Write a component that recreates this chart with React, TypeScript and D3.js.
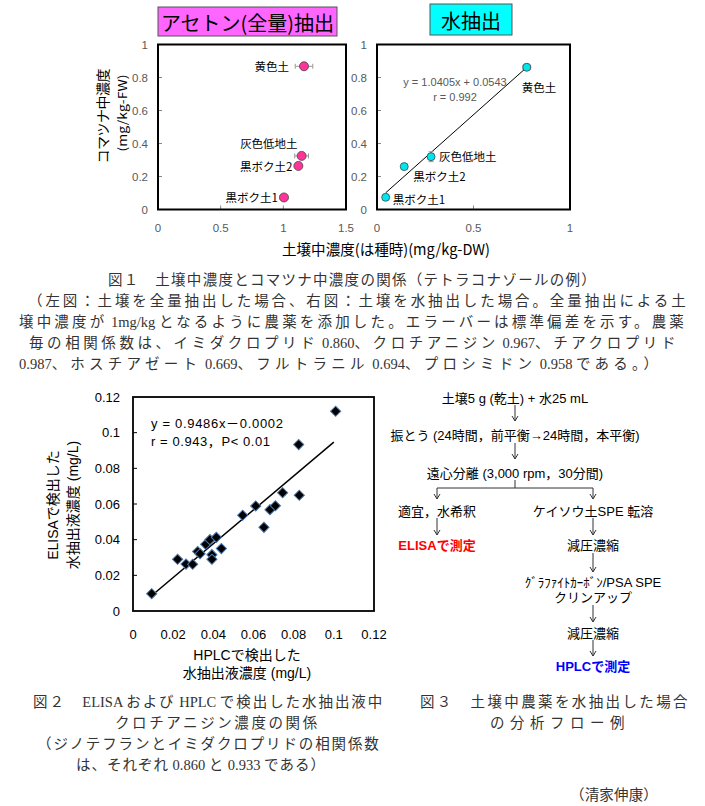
import React from 'react';
import * as d3 from 'd3';

// ---------- Data ----------
const soilLabels = ['黄色土', '灰色低地土', '黒ボク土2', '黒ボク土1'];
// Fig.1 left: acetone (total) extraction
const acetoneSoil = [1.165, 1.146, 1.12, 1.005];
const acetonePlant = [0.868, 0.325, 0.264, 0.073];
const acetoneSoilSD = [0.07, 0.055, 0.02, 0.03];
const acetonePlantSD = [0.01, 0.02, 0.01, 0.005];
// Fig.1 right: water extraction
const waterSoil = [0.776, 0.28, 0.141, 0.045];
const waterPlant = [0.862, 0.32, 0.26, 0.074];
const waterSoilSD = [0.02, 0.01, 0.005, 0.005];
const waterPlantSD = [0.02, 0.03, 0.01, 0.01];
const waterSlope = 1.0405;
const waterIntercept = 0.0543;
const waterFitRange = [0.045, 0.78];
const waterEq = ['y = 1.0405x + 0.0543', 'r = 0.992'];

const f1LeftXTicks = [0, 0.5, 1, 1.5];
const f1RightXTicks = [0, 0.5, 1];
const f1YTicks = [0, 0.2, 0.4, 0.6, 0.8, 1];

// Fig.2: ELISA vs HPLC
const hplc = [0.0093, 0.0222, 0.0264, 0.0297, 0.0322, 0.0334, 0.0362, 0.0383, 0.0393, 0.0393, 0.0415, 0.044,
  0.0546, 0.0611, 0.0652, 0.0682, 0.0709, 0.0745, 0.0828, 0.0825, 0.1009];
const elisa = [0.0097, 0.029, 0.0263, 0.0262, 0.0333, 0.0321, 0.0374, 0.040, 0.0316, 0.029, 0.0413, 0.035,
  0.0537, 0.0589, 0.0469, 0.0568, 0.059, 0.0663, 0.0649, 0.0933, 0.112];
const elisaSlope = 0.9486;
const elisaIntercept = -0.0002;
const elisaFitRange = [0.0101, 0.1];
const f2Ticks = [0, 0.02, 0.04, 0.06, 0.08, 0.1, 0.12];
const f2Eq = ['y = 0.9486x－0.0002', 'r = 0.943，P< 0.01'];

// Captions
const cap1 = [
  '図１　土壌中濃度とコマツナ中濃度の関係（テトラコナゾールの例）',
  '（左図：土壌を全量抽出した場合、右図：土壌を水抽出した場合。全量抽出による土',
  '壌中濃度が 1mg/kg となるように農薬を添加した。エラーバーは標準偏差を示す。農薬',
  '毎の相関係数は、イミダクロプリド 0.860、クロチアニジン 0.967、チアクロプリド',
  '0.987、ホスチアゼート 0.669、フルトラニル 0.694、プロシミドン 0.958 である。）',
];
const cap2 = [
  '図２　ELISA および HPLC で検出した水抽出液中',
  'クロチアニジン濃度の関係',
  '（ジノテフランとイミダクロプリドの相関係数',
  'は、それぞれ 0.860 と 0.933 である）',
];
const cap3 = ['図３　土壌中農薬を水抽出した場合', 'の分析フロー例'];
const author = '（清家伸康）';

const SANS = "'Liberation Sans', 'Noto Sans CJK JP', sans-serif";
const JSANS = "'Noto Sans CJK JP', 'Liberation Sans', sans-serif";
const SERIF = "'Liberation Serif', 'Noto Sans CJK JP', serif";

// ---------- Helpers ----------
const fmt = (v: number) => String(+v.toFixed(2));

let measureCtx: CanvasRenderingContext2D | null = null;
function measure(text: string, font: string): number {
  if (!measureCtx) measureCtx = document.createElement('canvas').getContext('2d');
  if (!measureCtx) return text.length * 7;
  measureCtx.font = font;
  return measureCtx.measureText(text).width;
}

function CaptionLine({ x, y, width, text, fs = 14.5 }: { x: number; y: number; width: number; text: string; fs?: number }) {
  const runs = text.match(/[\x20-\x7e]+|[^\x20-\x7e]+/g) || [];
  let asciiW = 0;
  let cjkN = 0;
  runs.forEach((r) => {
    if (/^[\x20-\x7e]/.test(r)) asciiW += measure(r, `${fs}px 'Liberation Serif'`);
    else cjkN += Array.from(r).length;
  });
  const ls = cjkN > 0 ? Math.max(-1.5, (width - asciiW - cjkN * fs) / cjkN) : 0;
  return (
    <text x={x} y={y} dominantBaseline="central" fontSize={fs} fill="#333" fontFamily={SERIF}>
      {runs.map((r, i) => (
        <tspan key={i} style={{ letterSpacing: /^[\x20-\x7e]/.test(r) ? '0px' : `${ls}px` }}>{r}</tspan>
      ))}
    </text>
  );
}

function Arrow({ x, y1, y2 }: { x: number; y1: number; y2: number }) {
  return (
    <g stroke="#333" strokeWidth={1} fill="none">
      <line x1={x} y1={y1} x2={x} y2={y2} />
      <polyline points={`${x - 3},${y2 - 5} ${x},${y2} ${x + 3},${y2 - 5}`} />
    </g>
  );
}

function Fig1Panel(props: {
  x0: number; x1: number; y0: number; y1: number; xMax: number; xTicks: number[];
  xs: number[]; ys: number[]; sx: number[]; sy: number[]; color: string; r: number;
  labelAnchor: 'start' | 'end'; labelOffsets: [number, number][];
}) {
  const { x0, x1, y0, y1, xMax, xTicks, xs, ys, sx, sy, color, r, labelAnchor, labelOffsets } = props;
  const x = d3.scaleLinear().domain([0, xMax]).range([x0, x1]);
  const y = d3.scaleLinear().domain([0, 1]).range([y1, y0]);
  return (
    <g>
      {f1YTicks.map((t) => (
        <text key={'yt' + t} x={x0 - 10} y={y(t)} textAnchor="end" dominantBaseline="central"
          fontSize={11.5} fill="#595959" fontFamily={SANS}>{fmt(t)}</text>
      ))}
      {f1YTicks.filter((t) => t > 0 && t < 1).map((t) => (
        <line key={'ytm' + t} x1={x0} x2={x0 + 4} y1={y(t)} y2={y(t)} stroke="#888" strokeWidth={1} />
      ))}
      {xTicks.map((t) => (
        <text key={'xt' + t} x={x(t)} y={y1 + 18} textAnchor="middle" dominantBaseline="central"
          fontSize={11.5} fill="#595959" fontFamily={SANS}>{fmt(t)}</text>
      ))}
      {xTicks.filter((t) => t > 0 && t < xMax).map((t) => (
        <line key={'xtm' + t} x1={x(t)} x2={x(t)} y1={y1} y2={y1 - 4} stroke="#888" strokeWidth={1} />
      ))}
      <rect x={x0} y={y0} width={x1 - x0} height={y1 - y0} fill="none" stroke="#000" strokeWidth={2} />
      {xs.map((v, i) => (
        <g key={'eb' + i} stroke="#999" strokeWidth={1}>
          <line x1={x(v - sx[i])} x2={x(v + sx[i])} y1={y(ys[i])} y2={y(ys[i])} />
          <line x1={x(v - sx[i])} x2={x(v - sx[i])} y1={y(ys[i]) - 2.5} y2={y(ys[i]) + 2.5} />
          <line x1={x(v + sx[i])} x2={x(v + sx[i])} y1={y(ys[i]) - 2.5} y2={y(ys[i]) + 2.5} />
          <line x1={x(v)} x2={x(v)} y1={y(ys[i] - sy[i])} y2={y(ys[i] + sy[i])} />
          <line x1={x(v) - 2.5} x2={x(v) + 2.5} y1={y(ys[i] - sy[i])} y2={y(ys[i] - sy[i])} />
          <line x1={x(v) - 2.5} x2={x(v) + 2.5} y1={y(ys[i] + sy[i])} y2={y(ys[i] + sy[i])} />
        </g>
      ))}
      {xs.map((v, i) => (
        <circle key={'pt' + i} cx={x(v)} cy={y(ys[i])} r={r} fill={color} stroke="#444" strokeWidth={0.8} />
      ))}
      {soilLabels.map((s, i) => (
        <text key={'lb' + i} x={x(xs[i]) + labelOffsets[i][0]} y={y(ys[i]) + labelOffsets[i][1]}
          textAnchor={labelAnchor} dominantBaseline="central" fontSize={11.5} fill="#000" fontFamily={JSANS}>{s}</text>
      ))}
    </g>
  );
}

export default function App() {
  const fTop = 44.5, fBot = 209.5;
  const xW = d3.scaleLinear().domain([0, 1]).range([377, 570]);
  const yW = d3.scaleLinear().domain([0, 1]).range([fBot, fTop]);

  const x2 = d3.scaleLinear().domain([0, 0.12]).range([133, 374]);
  const y2 = d3.scaleLinear().domain([0, 0.12]).range([611, 397]);
  const diamond = d3.symbol().type(d3.symbolSquare).size(52)() as string;

  const cx = 515, lx = 437, rx = 593;

  return (
    <svg width={705} height={806} style={{ position: 'absolute', left: 0, top: 0, background: '#fff' }}>
      <rect x={0} y={0} width={705} height={806} fill="#fff" />

      {/* ===== Figure 1 ===== */}
      <rect x={158} y={7} width={179} height={29} fill="#ff66ff" stroke="#555" strokeWidth={1} />
      <text x={247.5} y={22} textAnchor="middle" dominantBaseline="central" fontSize={20} fontFamily={JSANS}>アセトン(全量)抽出</text>
      <rect x={430} y={4} width={82} height={31} fill="#00ffff" stroke="#555" strokeWidth={1} />
      <text x={471} y={20} textAnchor="middle" dominantBaseline="central" fontSize={20} fontFamily={JSANS}>水抽出</text>

      <Fig1Panel x0={158} x1={346} y0={fTop} y1={fBot} xMax={1.5} xTicks={f1LeftXTicks}
        xs={acetoneSoil} ys={acetonePlant} sx={acetoneSoilSD} sy={acetonePlantSD}
        color="#ff3399" r={4.5} labelAnchor="end" labelOffsets={[[-15, 0], [-4, -13], [-6, 0], [-6, 0]]} />

      <line x1={xW(waterFitRange[0])} y1={yW(waterSlope * waterFitRange[0] + waterIntercept)}
        x2={xW(waterFitRange[1])} y2={yW(waterSlope * waterFitRange[1] + waterIntercept)} stroke="#000" strokeWidth={1} />
      <Fig1Panel x0={377} x1={570} y0={fTop} y1={fBot} xMax={1} xTicks={f1RightXTicks}
        xs={waterSoil} ys={waterPlant} sx={waterSoilSD} sy={waterPlantSD}
        color="#00e5ee" r={4} labelAnchor="start" labelOffsets={[[-5, 20], [8, -1], [9, 9], [7, 2]]} />
      <text x={455} y={82} textAnchor="middle" dominantBaseline="central" fontSize={11} fill="#595959" fontFamily={SANS}>{waterEq[0]}</text>
      <text x={455} y={97} textAnchor="middle" dominantBaseline="central" fontSize={11} fill="#595959" fontFamily={SANS}>{waterEq[1]}</text>

      <g transform="translate(102,116) rotate(-90)">
        <text textAnchor="middle" dominantBaseline="central" fontSize={14} fontFamily={JSANS}
          textLength={95} lengthAdjust="spacing">コマツナ中濃度</text>
      </g>
      <g transform="translate(121,113) rotate(-90)">
        <text textAnchor="middle" dominantBaseline="central" fontSize={12} fontFamily={JSANS}
          textLength={77} lengthAdjust="spacingAndGlyphs">(mg/kg-FW)</text>
      </g>
      <text x={386} y={248} textAnchor="middle" dominantBaseline="central" fontSize={15} fontFamily={JSANS}
        textLength={208} lengthAdjust="spacingAndGlyphs">土壌中濃度(は種時)(mg/kg-DW)</text>

      {/* Caption 1 */}
      {[[108, 489], [28, 661], [19, 670], [29, 651], [19, 651]].map(([x, w], i) => (
        <CaptionLine key={'c1' + i} x={x} y={280 + i * 21} width={w} text={cap1[i]} />
      ))}

      {/* ===== Figure 2 ===== */}
      {f2Ticks.map((t) => (
        <text key={'y2' + t} x={120} y={y2(t)} textAnchor="end" dominantBaseline="central" fontSize={13}
          fill="#000" fontFamily={SANS}>{fmt(t)}</text>
      ))}
      {f2Ticks.filter((t) => t > 0 && t < 0.12).map((t) => (
        <line key={'y2m' + t} x1={133} x2={137} y1={y2(t)} y2={y2(t)} stroke="#000" strokeWidth={1} />
      ))}
      {f2Ticks.map((t) => (
        <text key={'x2' + t} x={x2(t)} y={634} textAnchor="middle" dominantBaseline="central" fontSize={13}
          fill="#000" fontFamily={SANS}>{fmt(t)}</text>
      ))}
      <rect x={133} y={397} width={241} height={214} fill="none" stroke="#000" strokeWidth={1.8} />
      <line x1={x2(elisaFitRange[0])} y1={y2(elisaSlope * elisaFitRange[0] + elisaIntercept)}
        x2={x2(elisaFitRange[1])} y2={y2(elisaSlope * elisaFitRange[1] + elisaIntercept)} stroke="#000" strokeWidth={1.5} />
      {hplc.map((v, i) => (
        <path key={'d' + i} d={diamond} transform={`translate(${x2(v)},${y2(elisa[i])}) rotate(45)`}
          fill="#000" stroke="#4a78b0" strokeWidth={1} />
      ))}
      <text x={151} y={423} dominantBaseline="central" fontSize={13} fontFamily={SANS}
        textLength={132} lengthAdjust="spacing">{f2Eq[0]}</text>
      <text x={151} y={441} dominantBaseline="central" fontSize={13} fontFamily={SANS}
        textLength={119} lengthAdjust="spacing">{f2Eq[1]}</text>
      <g transform="translate(53,505) rotate(-90)">
        <text textAnchor="middle" dominantBaseline="central" fontSize={14} fontFamily={SANS}>ELISAで検出した</text>
      </g>
      <g transform="translate(73,505) rotate(-90)">
        <text textAnchor="middle" dominantBaseline="central" fontSize={14} fontFamily={SANS}>水抽出液濃度 (mg/L)</text>
      </g>
      <text x={247} y={655} textAnchor="middle" dominantBaseline="central" fontSize={14} fontFamily={SANS}>HPLCで検出した</text>
      <text x={247} y={673} textAnchor="middle" dominantBaseline="central" fontSize={14} fontFamily={SANS}>水抽出液濃度 (mg/L)</text>

      {/* ===== Figure 3 flow ===== */}
      <g fontFamily={SANS} fontSize={13} fill="#000" textAnchor="middle">
        <text x={cx} y={398} dominantBaseline="central">土壌5 g (乾土) + 水25 mL</text>
        <Arrow x={cx} y1={405} y2={421} />
        <text x={cx} y={435} dominantBaseline="central">振とう (24時間，前平衡→24時間，本平衡)</text>
        <Arrow x={cx} y1={443} y2={459} />
        <text x={cx} y={473} dominantBaseline="central">遠心分離 (3,000 rpm，30分間)</text>
        <g stroke="#333" strokeWidth={1} fill="none">
          <line x1={cx} y1={480} x2={cx} y2={488} />
          <line x1={lx} y1={488} x2={rx} y2={488} />
        </g>
        <Arrow x={lx} y1={488} y2={499} />
        <Arrow x={rx} y1={488} y2={499} />
        <text x={lx} y={511} dominantBaseline="central">適宜，水希釈</text>
        <text x={rx} y={511} dominantBaseline="central">ケイソウ土SPE 転溶</text>
        <Arrow x={lx} y1={518} y2={535} />
        <Arrow x={rx} y1={518} y2={535} />
        <text x={lx} y={545} dominantBaseline="central" fill="#ff0000" fontWeight="bold">ELISAで測定</text>
        <text x={rx} y={545} dominantBaseline="central">減圧濃縮</text>
        <Arrow x={rx} y1={553} y2={572} />
        <text x={rx} y={582} dominantBaseline="central">ｸﾞﾗﾌｧｲﾄｶｰﾎﾞﾝ/PSA SPE</text>
        <text x={rx} y={597} dominantBaseline="central">クリンアップ</text>
        <Arrow x={rx} y1={605} y2={622} />
        <text x={rx} y={633} dominantBaseline="central">減圧濃縮</text>
        <Arrow x={rx} y1={640} y2={656} />
        <text x={rx} y={666} dominantBaseline="central" fill="#0000ff" fontWeight="bold">HPLCで測定</text>
      </g>

      {/* Captions 2, 3 */}
      {[[33, 352], [115, 205], [37, 344], [76, 250]].map(([x, w], i) => (
        <CaptionLine key={'c2' + i} x={x} y={702 + i * 21} width={w} text={cap2[i]} />
      ))}
      {[[420, 270], [490, 140]].map(([x, w], i) => (
        <CaptionLine key={'c3' + i} x={x} y={702 + i * 21} width={w} text={cap3[i]} />
      ))}
      <CaptionLine x={570} y={795} width={88} text={author} />
    </svg>
  );
}
